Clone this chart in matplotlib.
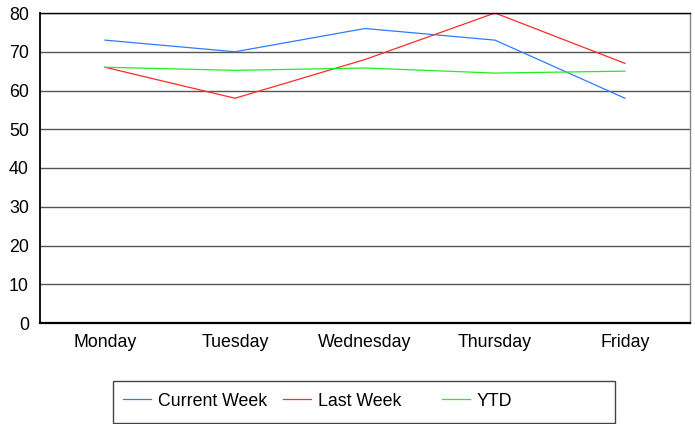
import matplotlib.pyplot as plt
from matplotlib.patches import Rectangle

plt.rcParams['font.family'] = ['Liberation Sans', 'DejaVu Sans']

days = ['Monday', 'Tuesday', 'Wednesday', 'Thursday', 'Friday']
current_week = [73, 70, 76, 73, 58]
last_week = [66, 58, 68, 80, 67]
ytd = [66, 65.2, 65.8, 64.5, 65]

series = [
    ('Current Week', current_week, '#2f7bff'),
    ('Last Week', last_week, '#ff2a2a'),
    ('YTD', ytd, '#1fee1f'),
]

fig = plt.figure(figsize=(6.95, 4.24), dpi=100)
ax = fig.add_axes([40 / 695, 101 / 424, 650 / 695, 310 / 424])

x = list(range(len(days)))
lines = []
for name, vals, color in series:
    ln, = ax.plot(x, vals, color=color, linewidth=0.9, label=name)
    lines.append(ln)

ax.set_xlim(-0.5, len(days) - 0.5)
ax.set_ylim(0, 80)
ax.set_yticks(range(0, 81, 10))
ax.set_xticks(x)
ax.set_xticklabels(days)
ax.tick_params(axis='both', length=0, labelsize=12.8, colors='black')
ax.tick_params(axis='y', pad=8)
ax.tick_params(axis='x', pad=8)

ax.yaxis.grid(True, color='#555555', linewidth=1.0)
ax.set_axisbelow(True)

for side in ['left', 'bottom', 'top']:
    ax.spines[side].set_color('black')
ax.spines['left'].set_linewidth(1.3)
ax.spines['bottom'].set_linewidth(1.6)
ax.spines['top'].set_linewidth(1.0)
ax.spines['right'].set_color('#888888')
ax.spines['right'].set_linewidth(1.0)

# legend frame spanning below the plot, entries in equal-width slots
fig.patches.append(Rectangle((113 / 695, 1 / 424), 502 / 695, 42 / 424,
                             transform=fig.transFigure, fill=False,
                             edgecolor='#444444', linewidth=1.0))
for ln, xpos in zip(lines, [123, 283, 442]):
    fig.legend(handles=[ln], loc='center left',
               bbox_to_anchor=(xpos / 695, 23 / 424),
               frameon=False, borderpad=0, borderaxespad=0,
               handlelength=1.6, handletextpad=0.35, fontsize=12.8)

fig.savefig('out.png', dpi=100)
